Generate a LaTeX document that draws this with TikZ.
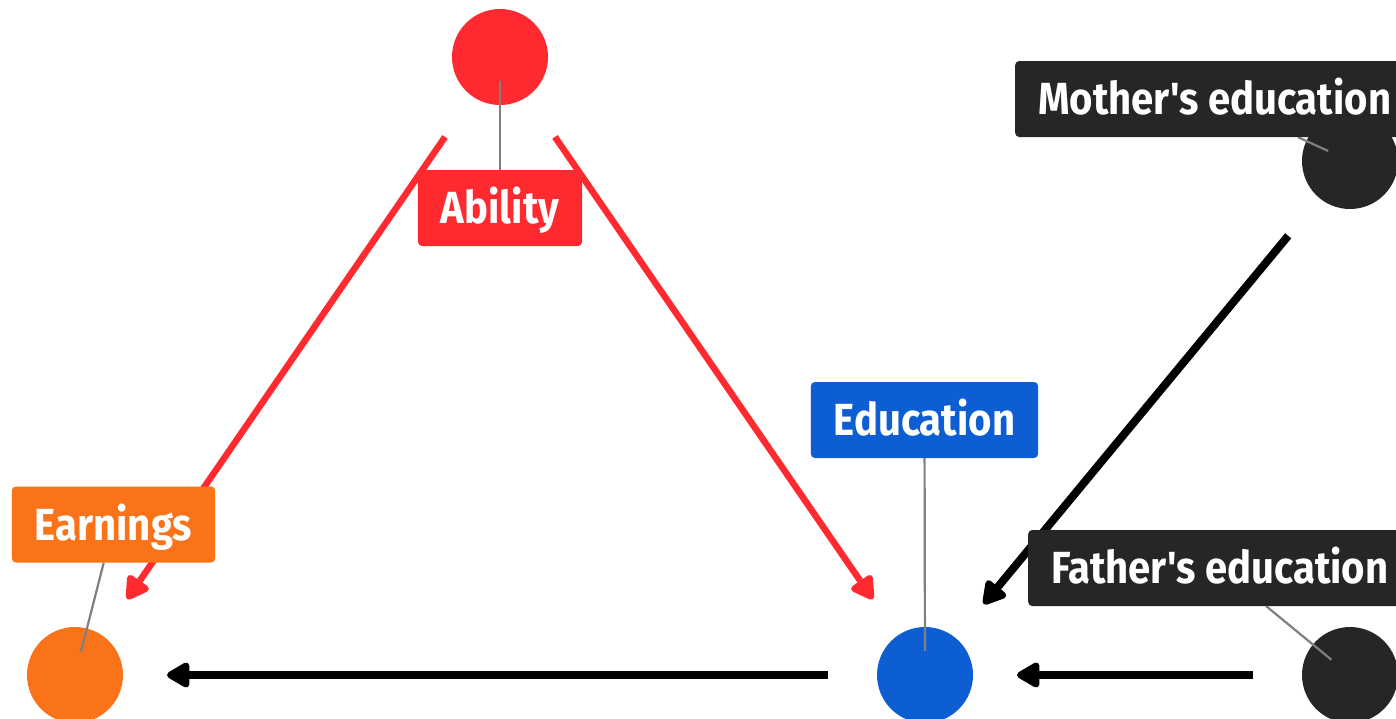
\documentclass[tikz,border=0pt]{standalone}
\usepackage{fontspec}
\newfontfamily\labfont{Fira Sans}[FakeStretch=0.89]
\usetikzlibrary{positioning,calc,arrows.meta}
\pgfdeclarelayer{circlelayer}
\pgfdeclarelayer{edgelayer}
\pgfsetlayers{circlelayer,edgelayer,main}
\definecolor{abilityred}{HTML}{FF2A2F}
\definecolor{earnorange}{HTML}{FA7319}
\definecolor{edublue}{HTML}{0D5ED3}
\definecolor{parentgray}{HTML}{262626}
\definecolor{stemgray}{HTML}{7F7F7F}
\begin{document}
\begin{tikzpicture}[x=1pt, y=-1pt,
  dot/.style={circle, minimum size=96pt, inner sep=0pt, fill=#1},
  lab/.style={rectangle, rounded corners=4pt, fill=#1, text=white, font=\labfont\bfseries\fontsize{45}{50}\selectfont,
    minimum height=76pt, inner xsep=23pt, inner ysep=0pt, text height=31pt, text depth=0pt},
  path/.style={line width=#1, shorten <=97pt, shorten >=92pt, -{Triangle[length=26pt, width=28pt, round]}},
  stem/.style={draw=stemgray, line width=2.2pt}]
\useasboundingbox (0,0) rectangle (1396,718);
\clip (0,0) rectangle (1396,718);
\begin{pgfonlayer}{circlelayer}
\node[dot=abilityred] (ability) at (500,57) {};
\node[dot=earnorange] (earn) at (75,675) {};
\node[dot=edublue] (edu) at (925,675) {};
\node[dot=parentgray] (mom) at (1350,161) {};
\node[dot=parentgray] (dad) at (1350,675) {};
\end{pgfonlayer}
% labels
\node[lab=abilityred] (abilitylab) at (500,208) {Ability};
\node[lab=earnorange] (earnlab) at (113.5,524.5) {Earnings};
\node[lab=edublue] (edulab) at (924.5,420) {Education};
\node[lab=parentgray, anchor=west] (momlab) at (1015,99) {Mother's education};
\node[lab=parentgray, anchor=west] (dadlab) at (1028,568) {Father's education};
\begin{pgfonlayer}{edgelayer}
% causal paths
\draw[path=6.5pt, abilityred] (ability.center) -- (earn.center);
\draw[path=6.5pt, abilityred] (ability.center) -- (edu.center);
\draw[path=8pt, black] (edu.center) -- (earn.center);
\draw[path=8pt, black] (dad.center) -- (edu.center);
\draw[path=8pt, black] (mom.center) -- (edu.center);
% label stems
\foreach \n in {ability, earn, edu, mom, dad}
  \draw[stem] ($(\n)!24pt!(\n lab)$) -- (\n lab);
\end{pgfonlayer}
\end{tikzpicture}
\end{document}
